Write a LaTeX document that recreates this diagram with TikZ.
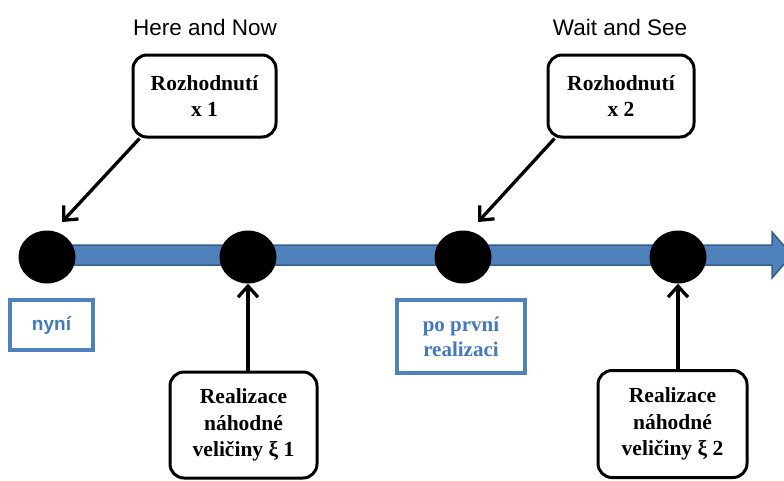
\documentclass[tikz,border=0pt]{standalone}
\usepackage{fontspec}
\setmainfont{Liberation Serif}
\newfontfamily\arialfont{Liberation Sans}
\usetikzlibrary{arrows.meta,shapes.geometric}
\definecolor{barblue}{RGB}{79,129,189}
\definecolor{bardark}{RGB}{56,93,138}
\definecolor{txtblue}{RGB}{70,120,190}
\tikzset{
  title/.style={font=\arialfont\fontsize{22.5}{26}\selectfont, anchor=center},
  blackbox/.style={draw=black, line width=3pt, rounded corners=14pt, fill=white,
    align=center, font=\bfseries\fontsize{21.5}{26.5}\selectfont, inner sep=0pt},
  bluebox/.style={draw=barblue, line width=3.2pt, fill=white, align=center,
    text=txtblue, inner sep=0pt},
  dot/.style={ellipse, fill=black, minimum width=57pt, minimum height=53pt, inner sep=0pt},
  arr/.style={line width=3.3pt, -{Straight Barb[length=11pt,width=20pt,line width=3.3pt]}},
}
\begin{document}
\begin{tikzpicture}[x=1pt,y=-1pt]
\useasboundingbox (0,0) rectangle (784,480);
% timeline bar
\draw[fill=barblue, draw=bardark, line width=1.5pt]
  (47,245) -- (772,245) -- (772,232) -- (792,255) -- (772,278) -- (772,265) -- (47,265) -- cycle;
% dots
\node[dot] (d1) at (47,257) {};
\node[dot] (d2) at (248,257) {};
\node[dot] (d3) at (463,257) {};
\node[dot] (d4) at (678,257) {};
% titles
\node[title] (t1) at (205,27) {Here and Now};
\node[title] (t2) at (620,27) {Wait and See};
% decision boxes
\node[blackbox, minimum width=143pt, minimum height=82pt] (b1) at (204.5,96) {Rozhodnutí\\x 1};
\node[blackbox, minimum width=146pt, minimum height=82pt] (b2) at (621,96) {Rozhodnutí\\x 2};
% realization boxes
\node[blackbox, minimum width=147pt, minimum height=106pt] (r1) at (243.5,425) {Realizace\\náhodné\\veličiny ξ 1};
\node[blackbox, minimum width=149pt, minimum height=107pt] (r2) at (672.5,424) {Realizace\\náhodné\\veličiny ξ 2};
% blue label boxes
\node[bluebox, minimum width=83pt, minimum height=50pt, font=\arialfont\bfseries\fontsize{19}{22}\selectfont] (n1) at (51.5,325) {nyní};
\node[bluebox, minimum width=128pt, minimum height=73pt, font=\bfseries\fontsize{21}{25}\selectfont] (n2) at (461,336.5) {po první\\realizaci};
% arrow endpoints
\coordinate (tip1) at (62,222);
\coordinate (tip2) at (478,222);
% connectors
\draw[arr] ([xshift=8pt]b1.south west) -- (tip1);
\draw[arr] ([xshift=8pt]b2.south west) -- (tip2);
\draw[arr] (d2 |- r1.north) -- (d2.south);
\draw[arr] (d4 |- r2.north) -- (d4.south);
\end{tikzpicture}
\end{document}
